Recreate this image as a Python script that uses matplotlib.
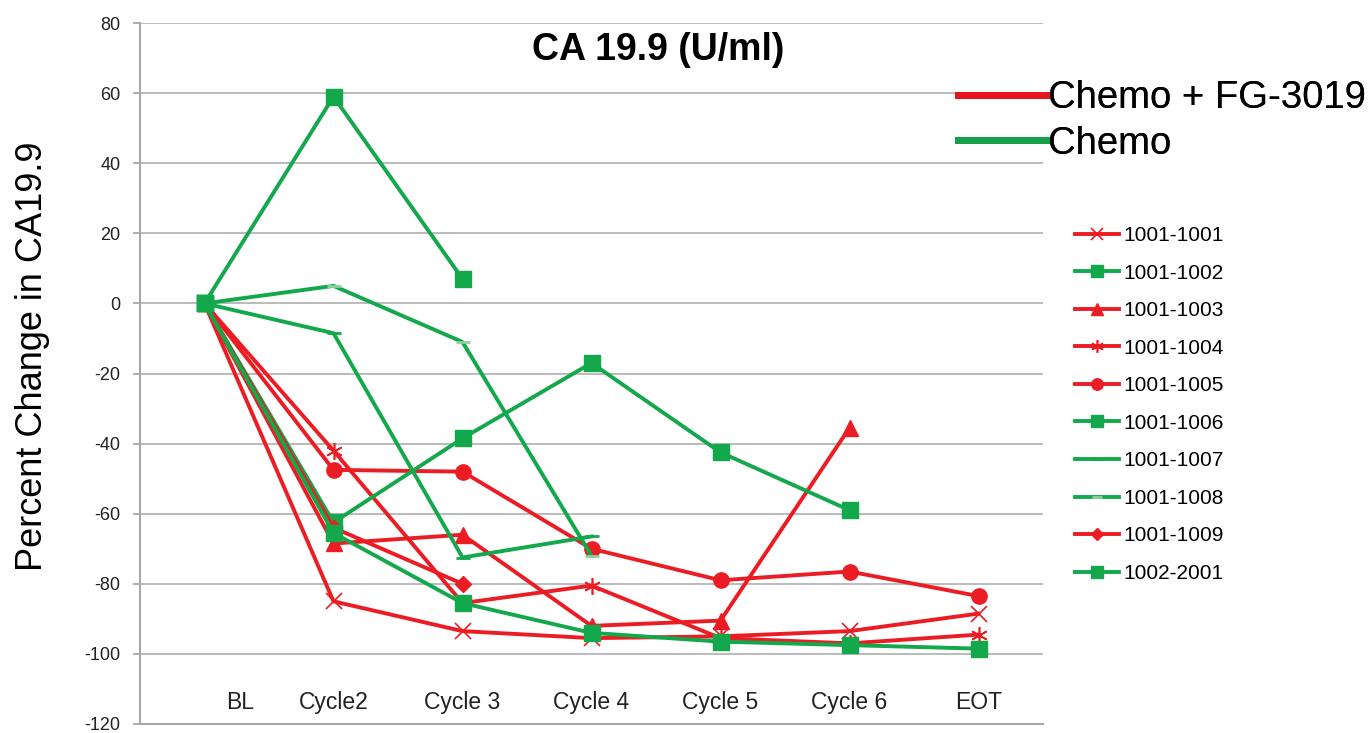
import numpy as np
import matplotlib
matplotlib.use("Agg")
import matplotlib.pyplot as plt
from matplotlib.lines import Line2D
from matplotlib.transforms import ScaledTranslation

plt.rcParams['font.family'] = ['Liberation Sans', 'DejaVu Sans']
plt.rcParams['axes.unicode_minus'] = False

visits = ["BL", "Cycle2", "Cycle 3", "Cycle 4", "Cycle 5", "Cycle 6", "EOT"]
nan = np.nan

# percent change from baseline, one list per patient
p1001_1001 = [0, -85.0, -93.5, -95.5, -95.0, -93.5, -88.5]
p1001_1002 = [0, 59.0, 7.0, nan, nan, nan, nan]
p1001_1003 = [0, -68.5, -66.0, -92.0, -90.5, -35.5, nan]
p1001_1004 = [0, -42.0, -85.5, -80.5, -95.5, -97.0, -94.5]
p1001_1005 = [0, -47.5, -48.0, -70.0, -79.0, -76.5, -83.5]
p1001_1006 = [0, -62.5, -38.5, -17.0, -42.5, -59.0, nan]
p1001_1007 = [0, -8.5, -72.5, -66.5, nan, nan, nan]
p1001_1008 = [0, 5.0, -11.0, -72.0, nan, nan, nan]
p1001_1009 = [0, -64.0, -80.0, nan, nan, nan, nan]
p1002_2001 = [0, -65.5, -85.5, -94.0, -96.5, -97.5, -98.5]

ids = ["1001-1001", "1001-1002", "1001-1003", "1001-1004", "1001-1005",
       "1001-1006", "1001-1007", "1001-1008", "1001-1009", "1002-2001"]
values = [p1001_1001, p1001_1002, p1001_1003, p1001_1004, p1001_1005,
          p1001_1006, p1001_1007, p1001_1008, p1001_1009, p1002_2001]
arm = ["combo", "chemo", "combo", "combo", "combo",
       "chemo", "chemo", "chemo", "combo", "chemo"]

RED = "#ec1c24"
GREEN = "#12a84b"

styles = {
    "1001-1001": dict(marker="x", ms=11, mew=1.2),
    "1001-1002": dict(marker="s", ms=11),
    "1001-1003": dict(marker="^", ms=11),
    "1001-1004": dict(marker=(6, 2, 0), ms=12, mew=1.2),
    "1001-1005": dict(marker="o", ms=11),
    "1001-1006": dict(marker="s", ms=11),
    "1001-1007": dict(marker="_", ms=10, mew=2),
    "1001-1008": dict(marker="_", ms=10, mew=2, mec="#8fcf9c"),
    "1001-1009": dict(marker="D", ms=8),
    "1002-2001": dict(marker="s", ms=11),
}

fig = plt.figure(figsize=(13.7, 7.33), dpi=100)
ax = fig.add_axes([140 / 1370, 9 / 733, 903 / 1370, 701 / 733])

x = np.arange(len(visits))
handles = []
for pid, vals, a in zip(ids, values, arm):
    c = RED if a == "combo" else GREEN
    st = dict(styles[pid])
    st.setdefault("mec", c)
    h, = ax.plot(x, vals, color=c, lw=2.8, mfc=c, label=pid, **st)
    handles.append(h)

ax.set_xlim(-0.5, 6.5)
ax.set_ylim(-120, 80)
ax.set_yticks(np.arange(-120, 81, 20))
ax.grid(axis="y", color="#b5b5b5", lw=1.3)
ax.set_axisbelow(True)
for s in ["top", "right"]:
    ax.spines[s].set_visible(False)
ax.spines["left"].set_color("#a8a8a8")
ax.spines["bottom"].set_color("#a8a8a8")
ax.spines["left"].set_linewidth(1.5)
ax.spines["bottom"].set_linewidth(1.5)
ax.tick_params(axis="y", length=5, width=1.3, color="#a8a8a8", pad=9,
               labelsize=13, labelcolor="#222222")
ax.set_xticks([])

# category labels sit inside the plot, just above the bottom axis
for i, lab in enumerate(visits):
    tr = ax.transData
    if i == 0:
        tr = tr + ScaledTranslation(0.36, 0, fig.dpi_scale_trans)
    ax.text(i, -114, lab, transform=tr, ha="center", va="center",
            fontsize=16.5, color="#222222")

fig.text(658 / 1370, 1 - 50 / 733, "CA 19.9 (U/ml)", ha="center", va="center",
         fontsize=27, fontweight="bold")
fig.text(33 / 1370, 1 - 356 / 733, "Percent Change in CA19.9", rotation=90,
         ha="center", va="center", fontsize=26)

arm_handles = [Line2D([], [], color="#e8141b", lw=5),
               Line2D([], [], color="#15a04a", lw=5)]
leg1 = fig.legend(arm_handles, ["Chemo + FG-3019", "Chemo"],
                  loc="upper left", bbox_to_anchor=(958 / 1370, 1 - 80 / 733),
                  frameon=False, fontsize=27.5, handlelength=2.3,
                  handletextpad=0.05, labelspacing=0.25, borderpad=0,
                  borderaxespad=0)
fig.add_artist(leg1)
fig.legend(handles, ids, loc="upper left",
           bbox_to_anchor=(1075 / 1370, 1 - 226 / 733), frameon=False,
           fontsize=15, handlelength=2.1, handletextpad=0.2,
           labelspacing=0.89, borderpad=0, borderaxespad=0, markerscale=0.75)

fig.savefig("out.png", dpi=100)
